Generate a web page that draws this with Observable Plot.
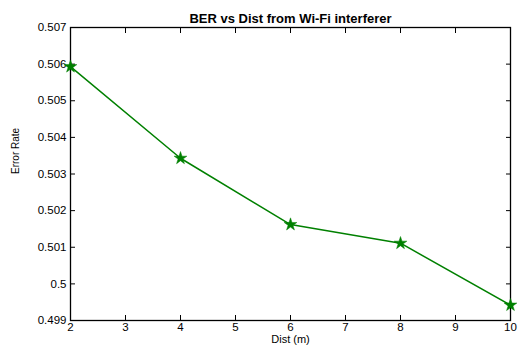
<!DOCTYPE html>
<html>
<head>
<meta charset="utf-8">
<script src="https://cdn.jsdelivr.net/npm/d3@7"></script>
<script src="https://cdn.jsdelivr.net/npm/@observablehq/plot@0.6"></script>
<style>
  html, body { margin: 0; padding: 0; background: #fff; }
  svg { display: block; }
</style>
</head>
<body>
<div id="chart"></div>
<script>
const titleText = "BER vs Dist from Wi-Fi interferer";
const xLabel = "Dist (m)";
const yLabel = "Error Rate";
const dist = [2, 4, 6, 8, 10];
const errorRate = [0.50593, 0.50343, 0.50162, 0.50111, 0.49942];
const xTicks = [2, 3, 4, 5, 6, 7, 8, 9, 10];
const yTicks = [0.499, 0.5, 0.501, 0.502, 0.503, 0.504, 0.505, 0.506, 0.507];

const data = dist.map((d, i) => ({dist: d, rate: errorRate[i]}));
const fmtY = d => String(+d.toFixed(3));
const font = "'Liberation Sans', Arial, Helvetica, sans-serif";
const tick = 5;

const chart = Plot.plot({
  width: 529,
  height: 349,
  marginTop: 27,
  marginBottom: 29,
  marginLeft: 70,
  marginRight: 19,
  style: {fontFamily: font, fontSize: "12px", color: "#000", background: "#fff"},
  x: {domain: [2, 10]},
  y: {domain: [0.499, 0.507]},
  marks: [
    Plot.axisX(xTicks, {anchor: "bottom", tickSize: 0, tickPadding: 2, label: null, fontSize: 11.5}),
    Plot.axisY(yTicks, {anchor: "left", tickSize: 0, tickPadding: 4, label: null, tickFormat: fmtY, fontSize: 11.5}),
    Plot.axisX(xTicks, {anchor: "bottom", text: null, tickSize: tick, dy: -tick, label: null}),
    Plot.axisX(xTicks, {anchor: "top", text: null, tickSize: tick, dy: tick, label: null}),
    Plot.axisY(yTicks, {anchor: "left", text: null, tickSize: tick, dx: tick, label: null}),
    Plot.axisY(yTicks, {anchor: "right", text: null, tickSize: tick, dx: -tick, label: null}),
    Plot.frame({stroke: "#000", strokeWidth: 1.3}),
    Plot.line(data, {x: "dist", y: "rate", stroke: "#008000", strokeWidth: 1.5}),
    Plot.dot(data, {x: "dist", y: "rate", symbol: "star", r: 4, fill: "#008000", stroke: "#008000", strokeWidth: 0.5}),
    Plot.text([titleText], {frameAnchor: "top", dy: -14, fontWeight: "bold", fontSize: 13, text: d => d}),
    Plot.text([xLabel], {frameAnchor: "bottom", dy: 22, fontSize: 11, text: d => d}),
    Plot.text([yLabel], {frameAnchor: "left", dx: -55, rotate: -90, fontSize: 10, text: d => d})
  ]
});
document.getElementById("chart").appendChild(chart);
</script>
</body>
</html>
